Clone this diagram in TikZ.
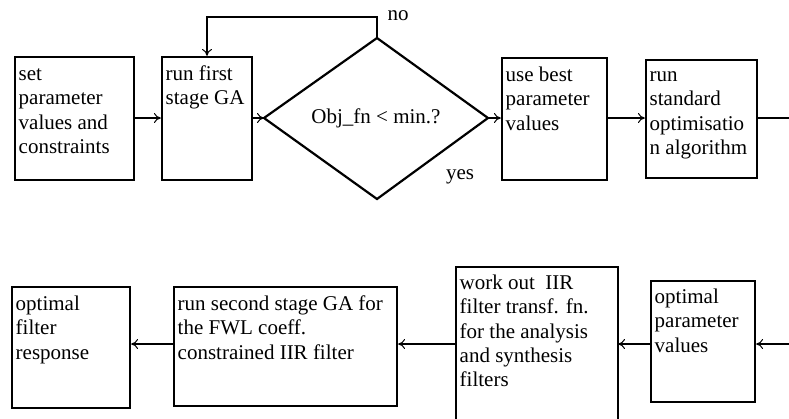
\documentclass[tikz,border=0pt]{standalone}
\usepackage{fontspec}
\setmainfont{Liberation Serif}
\usetikzlibrary{arrows.meta}
\begin{document}
\begin{tikzpicture}[x=1pt,y=-1pt,
  box/.style={draw,line width=2.2pt,inner sep=0pt},
  txt/.style={anchor=north west,inner sep=0pt,align=left,font=\fontsize{21}{24.4}\selectfont},
  lbl/.style={inner sep=0pt,font=\fontsize{21}{24.4}\selectfont},
  conn/.style={line width=2pt},
  arr/.style={conn,-{To[length=7pt,width=10pt,line width=1pt]}}]
\useasboundingbox (0,0) rectangle (789,418);
% top row
\node (b1) [box,minimum width=119,minimum height=123] at (74.5,118.5) {};
\node[txt] at (18.5,63) {\strut set\\parameter\\values and\\constraints};
\node (b2) [box,minimum width=90,minimum height=123] at (207,118.5) {};
\node[txt] at (165.5,63) {\strut run first\\stage GA};
\coordinate (dl) at (264,118);
\coordinate (dt) at (377,38);
\coordinate (dr) at (488,118);
\coordinate (db) at (377,199);
\draw[line width=2.2pt,line join=miter] (dl) -- (dt) -- (dr) -- (db) -- cycle;
\node (q) [lbl] at (376,118) {Obj\_fn < min.?};
\node (no) [lbl] at (398,16) {no};
\node (yes) [lbl] at (460,177) {yes};
\node (b3) [box,minimum width=105,minimum height=122] at (554.5,119) {};
\node[txt] at (505.5,64) {\strut use best\\parameter\\values};
\node (b4) [box,minimum width=111,minimum height=118] at (701.5,119) {};
\node[txt] at (649.5,64) {\strut run\\standard\\optimisatio\\n algorithm};
\coordinate (outR) at (792,118);
% bottom row
\node (b5) [box,minimum width=118,minimum height=121] at (71,347.5) {};
\node[txt] at (15.5,293) {\strut optimal\\filter\\response};
\node (b6) [box,minimum width=223,minimum height=119] at (285.5,346.5) {};
\node[txt] at (177.5,293) {\strut run second stage GA for\\the FWL coeff.\\constrained IIR filter};
\draw[line width=2.2pt] (456,430) -- (456,267) -- (618,267) -- (618,430);
\coordinate (b7w) at (456,344);
\coordinate (b7e) at (618,344);
\node[txt] at (459.5,272) {\strut work out\ \ IIR\\filter transf. fn.\\for the analysis\\and synthesis\\filters};
\node (b8) [box,minimum width=104,minimum height=121] at (703,341.5) {};
\node[txt] at (654.5,286) {\strut optimal\\parameter\\values};
\coordinate (inR) at (792,344);
% connectors
\draw[arr] (b1.east |- 0,118) -- (b2.west |- 0,118);
\draw[arr] (b2.east |- 0,118) -- (dl);
\draw[arr] (dt) -- (377,17) -| (b2.north);
\draw[arr] (dr) -- (b3.west |- 0,118);
\draw[arr] (b3.east |- 0,118) -- (b4.west |- 0,118);
\draw[conn] (b4.east |- 0,118) -- (outR);
\draw[arr] (inR) -- (b8.east |- 0,344);
\draw[arr] (b8.west |- 0,344) -- (b7e);
\draw[arr] (b7w) -- (b6.east |- 0,344);
\draw[arr] (b6.west |- 0,344) -- (b5.east |- 0,344);
\end{tikzpicture}
\end{document}
